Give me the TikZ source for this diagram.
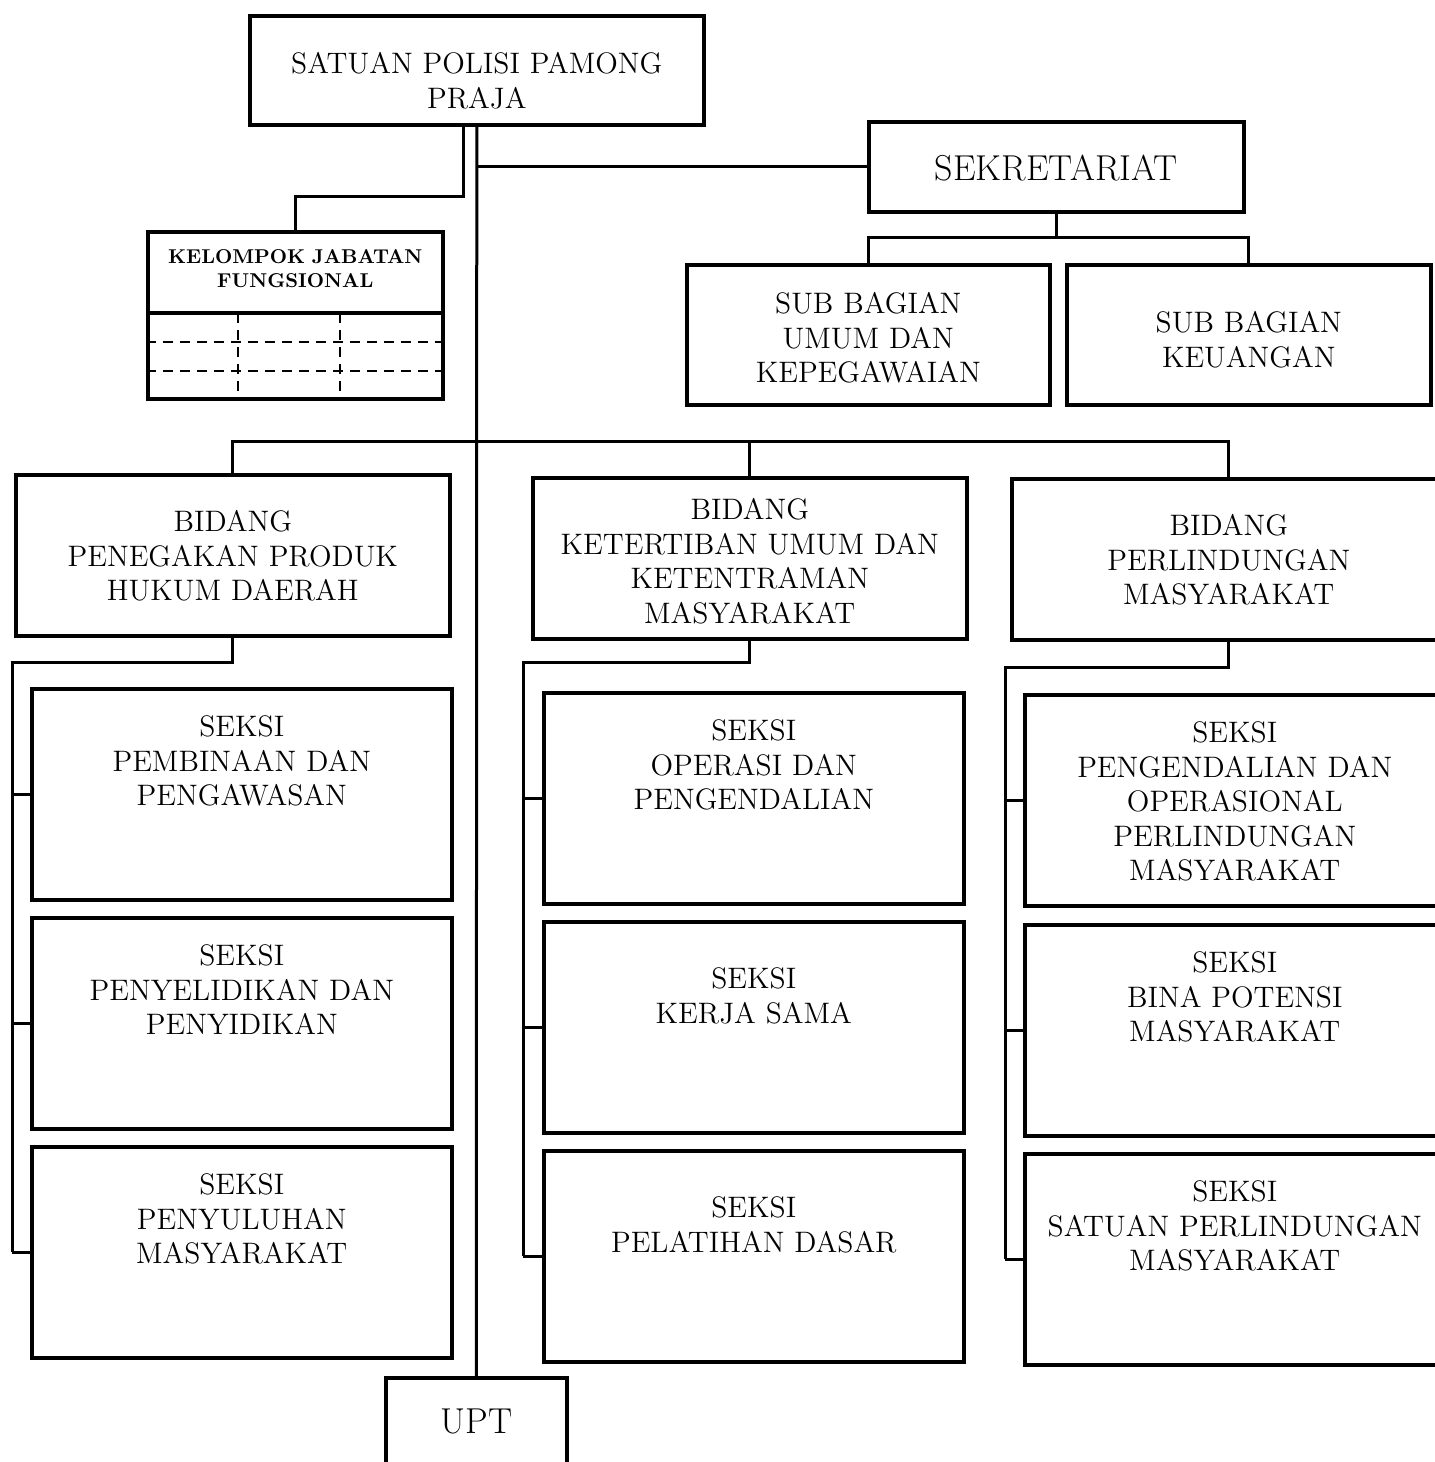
\documentclass[tikz,border=0pt]{standalone}
\usetikzlibrary{positioning}
\tikzset{
  unit/.style={draw, line width=1.8pt, inner sep=0pt, anchor=north west, align=center,
    font=\fontsize{14.8pt}{17.2pt}\selectfont},
  bigunit/.style={unit, font=\fontsize{18pt}{21pt}\selectfont},
  bidang/.style={unit, text width=217pt, text height=28.5pt, text depth=52pt},
  seksi/.style={unit, text width=210pt, text height=24pt, text depth=81.5pt},
  seksitwo/.style={seksi, text height=33.5pt, text depth=72pt},
  link/.style={line width=1.5pt},
  griddash/.style={line width=1.2pt, dash pattern=on 5pt off 3.5pt}
}
\begin{document}
\begin{tikzpicture}[x=0.5pt,y=-0.5pt]
\clip (0,0) rectangle (1435,1462);
\fill[white] (0,0) rectangle (1435,1462);
% top of the chart
\node[unit, text width=227pt, text height=29pt, text depth=25.5pt] (satpol) at (248,14) {SATUAN POLISI PAMONG\\PRAJA};
\node[bigunit, text width=187.5pt, text height=29.5pt, text depth=15.5pt] (sekret) at (867,120) {SEKRETARIAT};
\node[unit, text width=181.5pt, text height=24.5pt, text depth=45.5pt] (subumum) at (685,263) {SUB BAGIAN\\UMUM DAN\\KEPEGAWAIAN};
\node[unit, text width=182pt, text height=34pt, text depth=36pt] (subkeu) at (1065,263) {SUB BAGIAN\\KEUANGAN};
\node[unit, text width=147.5pt, text height=16pt, text depth=67.5pt,
  font=\fontsize{10pt}{12pt}\selectfont\bfseries] (kjf) at (146,230) {KELOMPOK JABATAN\\FUNGSIONAL};
\draw[line width=1.8pt] (kjf.north west) ++(0,83) -- ++(295,0);
\draw[griddash] (kjf.north west) ++(0,112) -- ++(295,0);
\draw[griddash] (kjf.north west) ++(0,141) -- ++(295,0);
\draw[griddash] (kjf.north west) ++(92,83) -- ++(0,84);
\draw[griddash] (kjf.north west) ++(194,83) -- ++(0,84);
% bidang
\node[bidang] (bid1) at (14,473) {BIDANG\\PENEGAKAN PRODUK\\HUKUM DAERAH};
\node[bidang, text height=21pt, text depth=59.5pt] (bid2) at (531,476) {BIDANG\\KETERTIBAN UMUM DAN\\KETENTRAMAN\\MASYARAKAT};
\node[bidang, text depth=52pt] (bid3) at (1010,477) {BIDANG\\PERLINDUNGAN\\MASYARAKAT};
% seksi
\node[seksi] (s11) at (30,687) {SEKSI\\PEMBINAAN DAN\\PENGAWASAN};
\node[seksi] (s12) at (30,916) {SEKSI\\PENYELIDIKAN DAN\\PENYIDIKAN};
\node[seksi] (s13) at (30,1145) {SEKSI\\PENYULUHAN\\MASYARAKAT};
\node[seksi] (s21) at (542,691) {SEKSI\\OPERASI DAN\\PENGENDALIAN};
\node[seksitwo] (s22) at (542,920) {SEKSI\\KERJA SAMA};
\node[seksitwo] (s23) at (542,1149) {SEKSI\\PELATIHAN DASAR};
\node[seksi] (s31) at (1023,693) {SEKSI\\PENGENDALIAN DAN\\OPERASIONAL\\PERLINDUNGAN\\MASYARAKAT};
\node[seksi] (s32) at (1023,923) {SEKSI\\BINA POTENSI\\MASYARAKAT};
\node[seksi] (s33) at (1023,1152) {SEKSI\\SATUAN PERLINDUNGAN\\MASYARAKAT};
\node[bigunit, text width=90.5pt, text height=28pt, text depth=22pt] (upt) at (384,1376) {UPT};
% lines
\coordinate (kjfjoint) at (463,196);
\coordinate (subbus) at (1055,237);
\coordinate (bidbus) at (475,441);
\coordinate (col1bus) at (12,662);
\coordinate (col2bus) at (523,662);
\coordinate (col3bus) at (1005,667);
\draw[link] (satpol.south) -- (upt.north);
\draw[link] (sekret.west) -- (sekret.west -| satpol.south);
\draw[link] (satpol.south -| kjfjoint) -- (kjfjoint) -| (kjf.north);
\draw[link] (sekret.south) -- (sekret.south |- subbus);
\draw[link] (subumum.north) |- (subbus) -| (subkeu.north);
\draw[link] (bid1.north) |- (bidbus) -| (bid3.north);
\draw[link] (bid2.north) -- (bid2.north |- bidbus);
\draw[link] (bid1.south) |- (col1bus) -- (col1bus |- s13.west);
\draw[link] (col1bus |- s11.west) -- (s11.west);
\draw[link] (col1bus |- s12.west) -- (s12.west);
\draw[link] (col1bus |- s13.west) -- (s13.west);
\draw[link] (bid2.south) |- (col2bus) -- (col2bus |- s23.west);
\draw[link] (col2bus |- s21.west) -- (s21.west);
\draw[link] (col2bus |- s22.west) -- (s22.west);
\draw[link] (col2bus |- s23.west) -- (s23.west);
\draw[link] (bid3.south) |- (col3bus) -- (col3bus |- s33.west);
\draw[link] (col3bus |- s31.west) -- (s31.west);
\draw[link] (col3bus |- s32.west) -- (s32.west);
\draw[link] (col3bus |- s33.west) -- (s33.west);
\end{tikzpicture}
\end{document}
